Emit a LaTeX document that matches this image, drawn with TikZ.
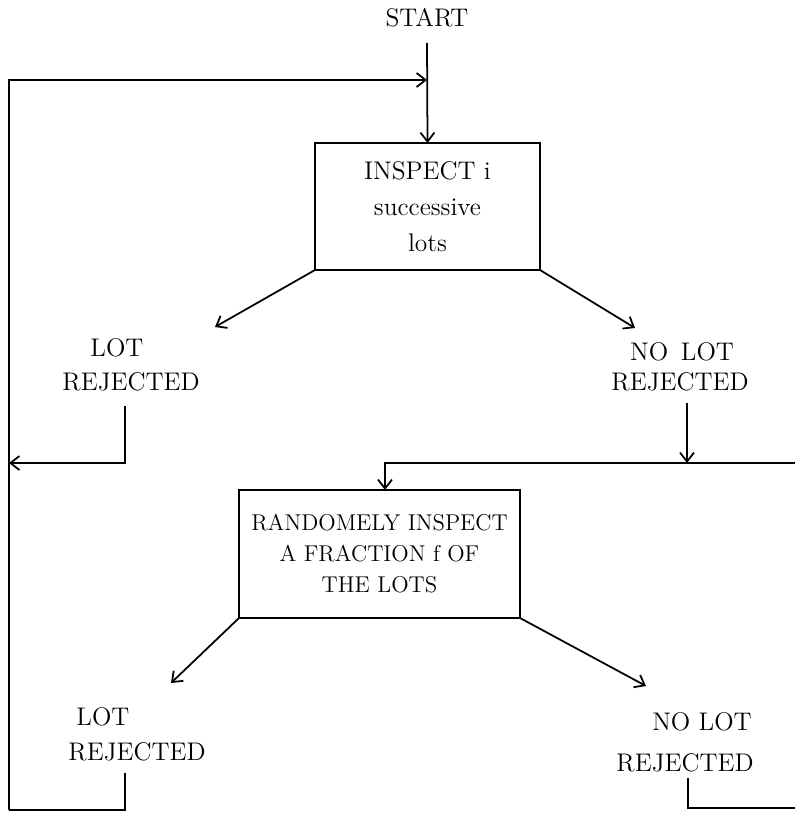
\documentclass[tikz,border=0pt]{standalone}
\usepackage{amsmath}
\usetikzlibrary{positioning,arrows.meta}

\tikzset{
  caja/.style={draw, line width=1pt, outer sep=0pt, inner sep=2pt, align=center,
    font=\fontsize{14.5}{18.5}\selectfont},
  texto/.style={inner sep=0pt, font=\fontsize{14.5}{18.5}\selectfont},
}

\begin{document}
\begin{tikzpicture}[x=0.02cm, y=-0.02cm, >={Straight Barb[length=1.8mm, width=2.8mm]}, line width=1pt]
  \useasboundingbox (0,0) rectangle (795,813);

  % Inicio
  \node[texto] (inicio) at (427,18) {START};
  \coordinate (arriba) at (427,43);
  \coordinate (retorno) at (427,80);

  % Primera inspeccion
  \node[caja, minimum width=4.5cm, minimum height=2.54cm] (inspeccion) at (427.5,206.5)
    {INSPECT i\\[2pt]successive\\[2pt]lots};

  % Etiquetas de la primera etapa
  \node[texto] (lote1) at (117,348) {LOT};
  \node[texto] (rechazo1) at (131,382) {REJECTED};
  \node[texto] (nolote1) at (682,352) {NO\enspace LOT};
  \node[texto] (norechazo1) at (680,382) {REJECTED};

  % Segunda inspeccion
  \node[caja, minimum width=5.62cm, minimum height=2.56cm, font=\fontsize{13}{17.6}\selectfont]
    (aleatoria) at (379.5,554) {RANDOMELY INSPECT\\A FRACTION f OF\\THE LOTS};

  % Etiquetas de la segunda etapa
  \node[texto] (lote2) at (103,717) {LOT};
  \node[texto] (rechazo2) at (137,752) {REJECTED};
  \node[texto] (nolote2) at (702,722) {NO LOT};
  \node[texto] (norechazo2) at (685,763) {REJECTED};

  % Puntos auxiliares
  \coordinate (f1) at (215,327);
  \coordinate (f2) at (635,328);
  \coordinate (f3) at (171,683);
  \coordinate (f4) at (646,686);
  \coordinate (b1) at (125,406);
  \coordinate (b2) at (687,403);
  \coordinate (b3) at (125,773);
  \coordinate (b4) at (688,778);
  \coordinate (izq) at (9,463);
  \coordinate (esquina) at (9,810);
  \coordinate (union) at (687,463);
  \coordinate (giro) at (385,463);
  \coordinate (der1) at (795,463);
  \coordinate (der2) at (795,808);

  % Flujo principal
  \draw[->] (arriba) -- (inspeccion.north);
  \draw[->] (inspeccion.south west) -- (f1);
  \draw[->] (inspeccion.south east) -- (f2);
  \draw[->] (aleatoria.south west) -- (f3);
  \draw[->] (aleatoria.south east) -- (f4);

  % Lote rechazado: vuelve al inicio
  \draw[->] (b1) |- (izq);
  \draw[->] (esquina) |- (retorno);
  \draw (b3) |- (esquina);

  % Ningun lote rechazado
  \draw[->] (b2) -- (union);
  \draw[->] (der1) -- (giro) -- (giro |- aleatoria.north);
  \draw (b4) |- (der2);
\end{tikzpicture}
\end{document}
